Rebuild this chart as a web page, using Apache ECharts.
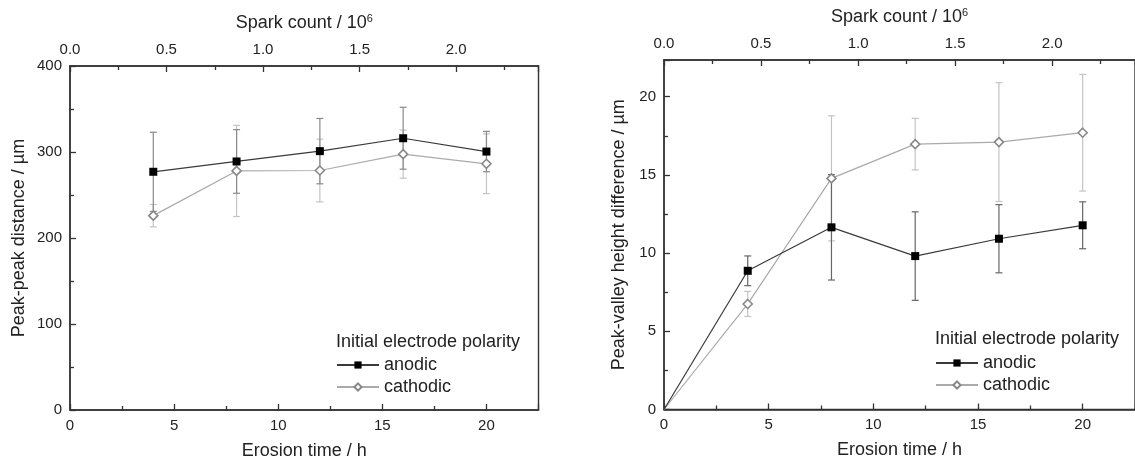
<!DOCTYPE html>
<html>
<head>
<meta charset="utf-8">
<script src="https://cdn.jsdelivr.net/npm/echarts@6/dist/echarts.min.js"></script>
<style>
  html, body { margin: 0; padding: 0; background: #fff; }
  #chart { width: 1135px; height: 465px; }
</style>
</head>
<body>
<div id="chart"></div>
<script>
// ---- Data ----
const seriesNames = ['anodic', 'cathodic'];
const legendTitle = 'Initial electrode polarity';

// Left panel: peak-peak distance (µm) vs erosion time (h)
const ppTime = [4, 8, 12, 16, 20];
const ppAnodic = [277, 289, 301, 316, 300.5];
const ppAnodicErr = [46, 37, 38, 36, 23.5];
const ppCathodic = [226, 278, 278.5, 297.5, 286.3];
const ppCathodicErr = [13, 53, 36.5, 28, 34.7];

// Right panel: peak-valley height difference (µm) vs erosion time (h)
const pvTime = [0, 4, 8, 12, 16, 20];
const pvAnodic = [0, 8.87, 11.65, 9.81, 10.92, 11.78];
const pvAnodicErr = [0, 0.95, 3.37, 2.83, 2.18, 1.5];
const pvCathodic = [0, 6.75, 14.78, 16.97, 17.1, 17.7];
const pvCathodicErr = [0, 0.8, 4.0, 1.65, 3.8, 3.73];

// Axis ranges / ticks
const timeMax = 22.5;
const sparkMax = 2.427;   // spark count (10^6) at 22.5 h
const ppMax = 400;
const pvMax = 22.35;

// ---- Helpers ----
const FONT = 'Liberation Sans, Arial, sans-serif';
const AX = '#333';

function pts(xs, ys) {
  return xs.map((x, i) => (x === 0 && ys[i] === 0) ? { value: [x, ys[i]], symbol: 'none' } : [x, ys[i]]);
}
function errData(xs, ys, es) {
  const out = [];
  xs.forEach((x, i) => { if (es[i] > 0) out.push([x, ys[i] - es[i], ys[i] + es[i]]); });
  return out;
}
function errSeries(name, xs, ys, es, color, gi) {
  return {
    type: 'custom', name: name + ' err', xAxisIndex: gi * 2, yAxisIndex: gi,
    silent: true, z: 2,
    data: errData(xs, ys, es),
    renderItem: function (params, api) {
      const x = api.value(0);
      const lo = api.coord([x, api.value(1)]);
      const hi = api.coord([x, api.value(2)]);
      const w = 3.5;
      const st = { stroke: color, lineWidth: 1.2 };
      return {
        type: 'group',
        children: [
          { type: 'line', shape: { x1: lo[0], y1: lo[1], x2: hi[0], y2: hi[1] }, style: st },
          { type: 'line', shape: { x1: lo[0] - w, y1: lo[1], x2: lo[0] + w, y2: lo[1] }, style: st },
          { type: 'line', shape: { x1: hi[0] - w, y1: hi[1], x2: hi[0] + w, y2: hi[1] }, style: st }
        ]
      };
    }
  };
}
function anodicLine(xs, ys, gi) {
  return {
    type: 'line', name: seriesNames[0], xAxisIndex: gi * 2, yAxisIndex: gi,
    data: pts(xs, ys), symbol: 'rect', symbolSize: 8, z: 4,
    lineStyle: { color: '#3a3a3a', width: 1.2 },
    itemStyle: { color: '#000', borderColor: '#000', borderWidth: 0 },
    animation: false
  };
}
function cathodicLine(xs, ys, gi) {
  return {
    type: 'line', name: seriesNames[1], xAxisIndex: gi * 2, yAxisIndex: gi,
    data: pts(xs, ys), symbol: 'diamond', symbolSize: 9, z: 3,
    lineStyle: { color: '#aaaaaa', width: 1.2 },
    itemStyle: { color: '#fff', borderColor: '#888', borderWidth: 1.6 },
    animation: false
  };
}
function timeAxis(gi, gap) {
  return {
    type: 'value', gridIndex: gi, position: 'bottom', min: 0, max: timeMax, interval: 5,
    name: 'Erosion time / h', nameLocation: 'middle', nameGap: gap,
    nameTextStyle: { fontSize: 18, color: '#222', fontFamily: FONT },
    axisLine: { show: true, onZero: false, lineStyle: { color: AX, width: 1.5 } },
    axisTick: { show: true, inside: true, length: 6, lineStyle: { color: AX, width: 1.3 } },
    minorTick: { show: true, splitNumber: 2, length: 4, lineStyle: { color: AX, width: 1.3 } },
    axisLabel: { fontSize: 15, color: '#222', fontFamily: FONT, margin: 8, showMaxLabel: false },
    splitLine: { show: false }
  };
}
function sparkAxis(gi) {
  return {
    type: 'value', gridIndex: gi, position: 'top', min: 0, max: sparkMax, interval: 0.5,
    name: 'Spark count / 10{sup|6}', nameLocation: 'middle', nameGap: 33,
    nameTextStyle: { fontSize: 18, color: '#222', fontFamily: FONT,
      rich: { sup: { fontSize: 11, color: '#222', fontFamily: FONT, verticalAlign: 'top', padding: [0, 0, 9, 0] } } },
    axisLine: { show: true, onZero: false, lineStyle: { color: AX, width: 1.5 } },
    axisTick: { show: true, inside: true, length: 6, lineStyle: { color: AX, width: 1.3 } },
    minorTick: { show: true, splitNumber: 2, length: 4, lineStyle: { color: AX, width: 1.3 } },
    axisLabel: { fontSize: 15, color: '#222', fontFamily: FONT, margin: 9, showMaxLabel: false,
      formatter: v => v.toFixed(1) },
    splitLine: { show: false }
  };
}
function valAxis(gi, max, interval, name, gap, showMax) {
  return {
    type: 'value', gridIndex: gi, min: 0, max: max, interval: interval,
    name: name, nameLocation: 'middle', nameGap: gap,
    nameTextStyle: { fontSize: 18, color: '#222', fontFamily: FONT },
    axisLine: { show: true, onZero: false, lineStyle: { color: AX, width: 1.5 } },
    axisTick: { show: true, inside: true, length: 6, lineStyle: { color: AX, width: 1.3 } },
    minorTick: { show: true, splitNumber: 2, length: 4, lineStyle: { color: AX, width: 1.3 } },
    axisLabel: { fontSize: 15, color: '#222', fontFamily: FONT, margin: 8, showMaxLabel: showMax },
    splitLine: { show: false }
  };
}
function legendOf(left, top) {
  return {
    data: seriesNames, orient: 'vertical', left: left, top: top,
    itemWidth: 42, itemHeight: 9, itemGap: 4, padding: 0,
    textStyle: { fontSize: 18, color: '#222', fontFamily: FONT },
    selectedMode: false
  };
}

const chart = echarts.init(document.getElementById('chart'), null, { renderer: 'canvas' });
chart.setOption({
  animation: false,
  backgroundColor: '#fff',
  textStyle: { fontFamily: FONT },
  grid: [
    { left: 70, top: 66, width: 468.5, height: 344.7, show: true, borderColor: AX, borderWidth: 1.4, backgroundColor: 'transparent', containLabel: false },
    { left: 664, top: 60, width: 474.8, height: 349.5, show: true, borderColor: AX, borderWidth: 1.4, backgroundColor: 'transparent', containLabel: false }
  ],
  xAxis: [ timeAxis(0, 32), sparkAxis(0), timeAxis(1, 32), sparkAxis(1) ],
  yAxis: [
    valAxis(0, ppMax, 100, 'Peak-peak distance / µm', 42, true),
    valAxis(1, pvMax, 5, 'Peak-valley height difference / µm', 36, false)
  ],
  legend: [ legendOf(336, 356), legendOf(935, 354) ],
  graphic: [
    { type: 'text', left: 336, top: 333, style: { text: legendTitle, fontSize: 18, fill: '#222', fontFamily: FONT } },
    { type: 'text', left: 935, top: 330, style: { text: legendTitle, fontSize: 18, fill: '#222', fontFamily: FONT } }
  ],
  series: [
    errSeries('cathodic', ppTime, ppCathodic, ppCathodicErr, '#c4c4c4', 0),
    errSeries('anodic', ppTime, ppAnodic, ppAnodicErr, '#8a8a8a', 0),
    cathodicLine(ppTime, ppCathodic, 0),
    anodicLine(ppTime, ppAnodic, 0),
    errSeries('cathodic', pvTime, pvCathodic, pvCathodicErr, '#c4c4c4', 1),
    errSeries('anodic', pvTime, pvAnodic, pvAnodicErr, '#666666', 1),
    cathodicLine(pvTime, pvCathodic, 1),
    anodicLine(pvTime, pvAnodic, 1)
  ]
});
</script>
</body>
</html>
